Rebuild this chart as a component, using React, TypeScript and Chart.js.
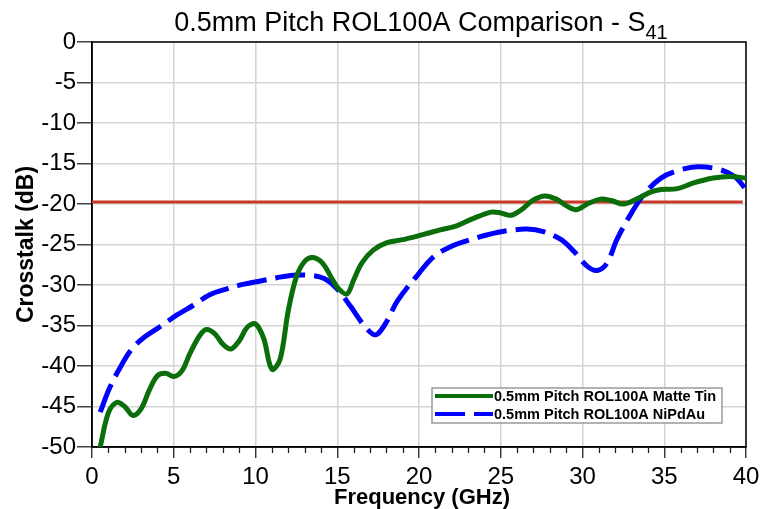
import React, { useEffect, useRef } from 'react';
import { Chart, registerables } from 'chart.js';

Chart.register(...registerables);

const TITLE_MAIN = '0.5mm Pitch ROL100A Comparison - S';
const TITLE_SUB = '41';
const X_TITLE = 'Frequency (GHz)';
const Y_TITLE = 'Crosstalk (dB)';
const SERIES_NAMES = ['0.5mm Pitch ROL100A Matte Tin', '0.5mm Pitch ROL100A NiPdAu'];

const xTickLabels = [0, 5, 10, 15, 20, 25, 30, 35, 40];
const yTickLabels = [0, -5, -10, -15, -20, -25, -30, -35, -40, -45, -50];

const tinFreq = [0.5, 1.0, 1.5, 2.0, 2.5, 3.0, 3.5, 4.0, 4.5, 5.0, 5.5, 6.0, 6.6, 7.0, 7.5, 8.0, 8.5, 9.0, 9.5, 10.0, 10.5, 11.0, 11.5, 12.0, 12.5, 13.0, 13.5, 14.1, 14.7, 15.1, 15.6, 16.0, 16.5, 17.2, 18.0, 19.0, 20.0, 21.3, 22.3, 23.3, 24.4, 25.0, 25.6, 26.2, 27.0, 27.7, 28.4, 29.0, 29.6, 30.3, 31.1, 31.8, 32.5, 33.3, 34.2, 34.8, 35.8, 36.8, 38.0, 39.0, 40.0];
const tinDb = [-50, -45.8, -44.5, -45.0, -46.1, -45.3, -43.0, -41.2, -40.9, -41.3, -40.6, -38.4, -36.2, -35.5, -36.0, -37.3, -37.9, -36.9, -35.2, -34.8, -36.6, -40.4, -39.2, -33.2, -29.0, -27.1, -26.6, -27.3, -29.3, -30.5, -31.1, -29.4, -27.3, -25.7, -24.8, -24.4, -23.9, -23.2, -22.7, -21.8, -21.0, -21.1, -21.4, -20.8, -19.5, -19.0, -19.4, -20.2, -20.7, -20.0, -19.4, -19.6, -20.0, -19.4, -18.5, -18.2, -18.1, -17.4, -16.8, -16.6, -16.8];

const nipdauFreq = [0.5, 1.1, 1.8, 2.4, 3.1, 4.2, 5.2, 6.2, 7.2, 8.2, 9.3, 10.3, 11.3, 12.3, 13.3, 14.2, 15.0, 15.8, 16.6, 17.2, 17.5, 18.0, 18.7, 19.9, 20.9, 21.9, 23.0, 24.2, 25.4, 26.6, 27.6, 28.7, 29.5, 30.3, 30.9, 31.5, 32.1, 33.0, 33.8, 34.8, 35.8, 37.0, 38.3, 39.3, 40.0];
const nipdauDb = [-45.7, -42.6, -39.9, -38.0, -36.6, -35.1, -33.7, -32.5, -31.2, -30.5, -29.9, -29.5, -29.1, -28.8, -28.8, -29.2, -30.5, -32.6, -34.9, -36.1, -36.0, -34.6, -31.9, -28.8, -26.5, -25.3, -24.5, -23.8, -23.3, -23.1, -23.4, -24.4, -25.9, -27.7, -28.2, -27.3, -24.4, -21.1, -18.7, -16.8, -15.9, -15.4, -15.7, -16.6, -18.2];

const limitFreq = [0, 39.8];
const limitDb = [-19.75, -19.75];

const FONT = '"Liberation Sans", Arial, sans-serif';

const toPoints = (xs: number[], ys: number[]) => xs.map((x, i) => ({ x, y: ys[i] }));

const decor = {
  id: 'decor',
  beforeDatasetsDraw(chart: any) {
    const { ctx, chartArea: a, scales } = chart;
    ctx.save();
    ctx.strokeStyle = '#000';
    ctx.lineWidth = 1.5;
    ctx.strokeRect(a.left, a.top, a.right - a.left, a.bottom - a.top);
    const xs = scales.x;
    ctx.lineWidth = 1.3;
    ctx.strokeStyle = '#222';
    for (let v = xs.min; v <= xs.max; v += 1) {
      if (xTickLabels.includes(v)) continue;
      const px = Math.round(xs.getPixelForValue(v)) + 0.5;
      ctx.beginPath();
      ctx.moveTo(px, a.bottom);
      ctx.lineTo(px, a.bottom + 6);
      ctx.stroke();
    }
    ctx.restore();
  },
  afterDraw(chart: any) {
    const { ctx, chartArea: a } = chart;
    ctx.save();
    ctx.fillStyle = '#000';
    // title
    ctx.font = `27px ${FONT}`;
    const w1 = ctx.measureText(TITLE_MAIN).width;
    ctx.font = `20px ${FONT}`;
    const w2 = ctx.measureText(TITLE_SUB).width;
    const tx = 421 - (w1 + w2) / 2;
    ctx.textAlign = 'left';
    ctx.textBaseline = 'alphabetic';
    ctx.font = `27px ${FONT}`;
    ctx.fillText(TITLE_MAIN, tx, 31);
    ctx.font = `20px ${FONT}`;
    ctx.fillText(TITLE_SUB, tx + w1, 39);
    // x title
    ctx.font = `bold 22px ${FONT}`;
    ctx.textAlign = 'center';
    ctx.fillText(X_TITLE, (a.left + a.right) / 2 + 3, 504);
    // y title
    ctx.save();
    ctx.translate(33, (a.top + a.bottom) / 2);
    ctx.rotate(-Math.PI / 2);
    ctx.textAlign = 'center';
    ctx.textBaseline = 'alphabetic';
    ctx.font = `bold 23px ${FONT}`;
    ctx.fillText(Y_TITLE, 0, 0);
    ctx.restore();
    // legend
    const bx = 432, by = 388, bw = 290, bh = 35;
    ctx.fillStyle = '#fff';
    ctx.fillRect(bx, by, bw, bh);
    ctx.strokeStyle = '#9a9a9a';
    ctx.lineWidth = 1.5;
    ctx.strokeRect(bx, by, bw, bh);
    const ds = chart.data.datasets;
    [0, 1].forEach((i) => {
      const y = by + 8 + i * 18;
      ctx.save();
      ctx.strokeStyle = ds[i].borderColor;
      ctx.lineWidth = 4;
      ctx.lineCap = 'butt';
      ctx.setLineDash(ds[i].borderDash || []);
      ctx.beginPath();
      ctx.moveTo(bx + 3, y);
      ctx.lineTo(bx + 61, y);
      ctx.stroke();
      ctx.restore();
      ctx.fillStyle = '#000';
      ctx.font = `bold 14.5px ${FONT}`;
      ctx.textAlign = 'left';
      ctx.textBaseline = 'middle';
      ctx.fillText(SERIES_NAMES[i], bx + 62, y + 1);
    });
    ctx.restore();
  },
};

export default function App() {
  const ref = useRef<HTMLCanvasElement>(null);
  useEffect(() => {
    if (!ref.current) return;
    const chart = new Chart(ref.current, {
      type: 'line',
      data: {
        datasets: [
          {
            label: SERIES_NAMES[0],
            data: toPoints(tinFreq, tinDb),
            borderColor: '#0a6e0a',
            borderWidth: 5,
            pointRadius: 0,
            tension: 0.35,
            borderJoinStyle: 'round',
            borderCapStyle: 'round',
            fill: false,
          },
          {
            label: SERIES_NAMES[1],
            data: toPoints(nipdauFreq, nipdauDb),
            borderColor: '#0000ff',
            borderWidth: 5,
            borderDash: [30, 9],
            pointRadius: 0,
            tension: 0.35,
            fill: false,
          },
          {
            label: 'limit',
            data: toPoints(limitFreq, limitDb),
            borderColor: '#c83a26',
            borderWidth: 3,
            pointRadius: 0,
            fill: false,
          },
        ],
      },
      options: {
        responsive: false,
        animation: false,
        layout: { padding: { left: 0, top: 42, right: 31, bottom: 0 } },
        plugins: { legend: { display: false }, title: { display: false }, tooltip: { enabled: false } },
        scales: {
          x: {
            type: 'linear',
            min: 0,
            max: 40,
            afterBuildTicks: (s: any) => { s.ticks = xTickLabels.map((v) => ({ value: v })); },
            afterFit: (s: any) => { s.height = 62; },
            ticks: { color: '#000', font: { family: FONT, size: 24 }, padding: 5, maxRotation: 0, autoSkip: false },
            grid: { color: '#d4d4d4', lineWidth: 1.5, tickColor: '#222', tickLength: 11, tickWidth: 1.3 },
            border: { color: '#000', width: 1.5 },
          },
          y: {
            type: 'linear',
            min: -50,
            max: 0,
            afterBuildTicks: (s: any) => { s.ticks = yTickLabels.map((v) => ({ value: v })); },
            afterFit: (s: any) => { s.width = 92; },
            ticks: { color: '#000', font: { family: FONT, size: 24 }, padding: 1, autoSkip: false },
            grid: { color: '#d4d4d4', lineWidth: 1.5, tickColor: '#444', tickLength: 15, tickWidth: 1.5 },
            border: { color: '#000', width: 1.5 },
          },
        },
      },
      plugins: [decor],
    } as any);
    return () => chart.destroy();
  }, []);
  return (
    <canvas
      ref={ref}
      width={777}
      height={509}
      style={{ position: 'absolute', left: 0, top: 0, width: 777, height: 509 }}
    />
  );
}
